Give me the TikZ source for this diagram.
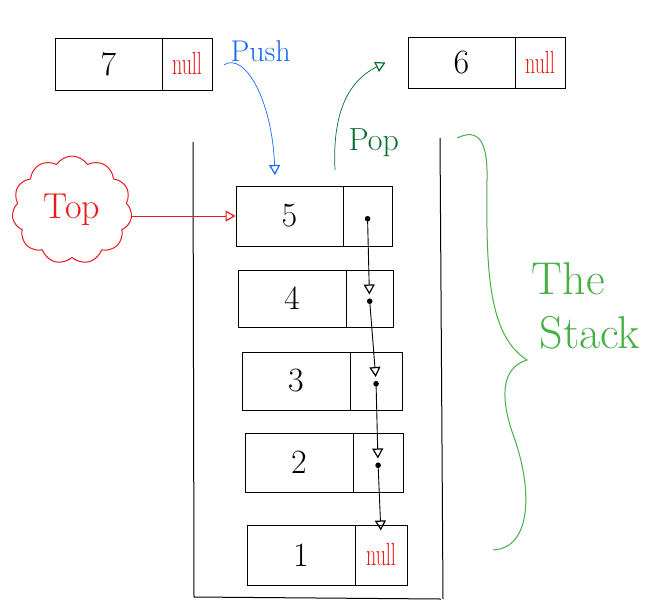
\documentclass[tikz,border=0pt]{standalone}
\usepackage{fontspec}
\usetikzlibrary{arrows.meta,shapes.symbols}
\definecolor{pushblue}{RGB}{25,105,250}
\definecolor{popgreen}{RGB}{10,110,50}
\definecolor{stackgreen}{RGB}{70,175,70}
\definecolor{nullred}{RGB}{235,25,25}
\newcommand{\nullword}{\scalebox{1}[1.6]{null}}
\tikzset{
  cell/.style={draw, line width=1pt, inner sep=0pt, font=\fontsize{34}{38}\selectfont},
  nullcell/.style={cell, text=nullred, font=\fontsize{20}{24}\selectfont},
  ptr/.style={line width=0.9pt, {Circle[length=5.5pt]}-{Triangle[open,length=10pt,width=11pt,line width=1.2pt]}, shorten >=4pt},
  hand/.style={line width=0.7pt, -{Triangle[open,length=10pt,width=11pt,line width=1.2pt]}},
}
\begin{document}
\begin{tikzpicture}[x=1pt,y=-1pt]
\fill[white] (0,0) rectangle (671,611);
\useasboundingbox (0,0) rectangle (671,611);

% free nodes 7 and 6
\node[cell, minimum width=107pt, minimum height=52pt] (n7v) at (108.5,64) {7};
\node[nullcell, minimum width=50pt, minimum height=52pt] (n7p) at (187,64) {\nullword};
\node[cell, minimum width=107pt, minimum height=51pt] (n6v) at (461.5,62.5) {6};
\node[nullcell, minimum width=50pt, minimum height=51pt] (n6p) at (540,62.5) {\nullword};

% the container
\draw[line width=1pt] (193,142) -- (194,597) -- (441,599);
\draw[line width=1pt] (440,138) -- (443,599);

% stacked nodes
\node[cell, minimum width=107pt, minimum height=60pt] (n5v) at (289.5,216) {5};
\node[cell, minimum width=49pt, minimum height=60pt] (n5p) at (367.5,216) {};
\node[cell, minimum width=108pt, minimum height=57pt] (n4v) at (292,298.5) {4};
\node[cell, minimum width=47pt, minimum height=57pt] (n4p) at (369.5,298.5) {};
\node[cell, minimum width=108pt, minimum height=58pt] (n3v) at (296,381) {3};
\node[cell, minimum width=52pt, minimum height=58pt] (n3p) at (376,381) {};
\node[cell, minimum width=108pt, minimum height=59pt] (n2v) at (299,462.5) {2};
\node[cell, minimum width=50pt, minimum height=59pt] (n2p) at (378,462.5) {};
\node[cell, minimum width=108pt, minimum height=60pt] (n1v) at (301,555) {1};
\node[nullcell, minimum width=52pt, minimum height=60pt] (n1p) at (381,555) {\nullword};

% pointer chain
\draw[ptr] (n5p.center) -- (n4p.center);
\draw[ptr] (n4p.center) -- (n3p.center);
\draw[ptr] (n3p.center) -- (n2p.center);
\draw[ptr] (n2p.center) -- ([yshift=-10pt]n1p.north);

% Top cloud
\node[cloud, draw=nullred, line width=1pt, cloud puffs=11, cloud puff arc=115, aspect=1.15,
      minimum width=120pt, minimum height=108pt, inner sep=0pt, text=nullred,
      font=\fontsize{36}{40}\selectfont] (top) at (72,210) {Top};
\draw[hand, nullred] (top.east |- n5v.west) -- (n5v.west);

% Push
\node[text=pushblue, font=\fontsize{30}{34}\selectfont, anchor=base west] (push) at (227,61) {Push};
\coordinate (pushend) at (275,175);
\draw[hand, pushblue] ([xshift=-3pt]push.south west) .. controls (245,52) and (272,100) .. (pushend);

% Pop
\node[text=popgreen, font=\fontsize{32}{36}\selectfont, anchor=base west] (pop) at (345,150) {Pop};
\coordinate (popstart) at (335,170);
\draw[hand, popgreen] (popstart) .. controls (332,110) and (350,80) .. ([xshift=-22pt]n6v.west);

% The Stack brace
\draw[stackgreen, line width=1pt] (457,138) .. controls (478,128) and (488,140) .. (487,180)
   .. controls (486,270) and (488,335) .. (527,360)
   .. controls (500,368) and (500,400) .. (515,440)
   .. controls (532,490) and (532,548) .. (493,550);
\node[text=stackgreen, font=\fontsize{46}{56}\selectfont, align=left] (label) at (586,306) {The\\[-2pt]\,Stack};
\end{tikzpicture}
\end{document}
